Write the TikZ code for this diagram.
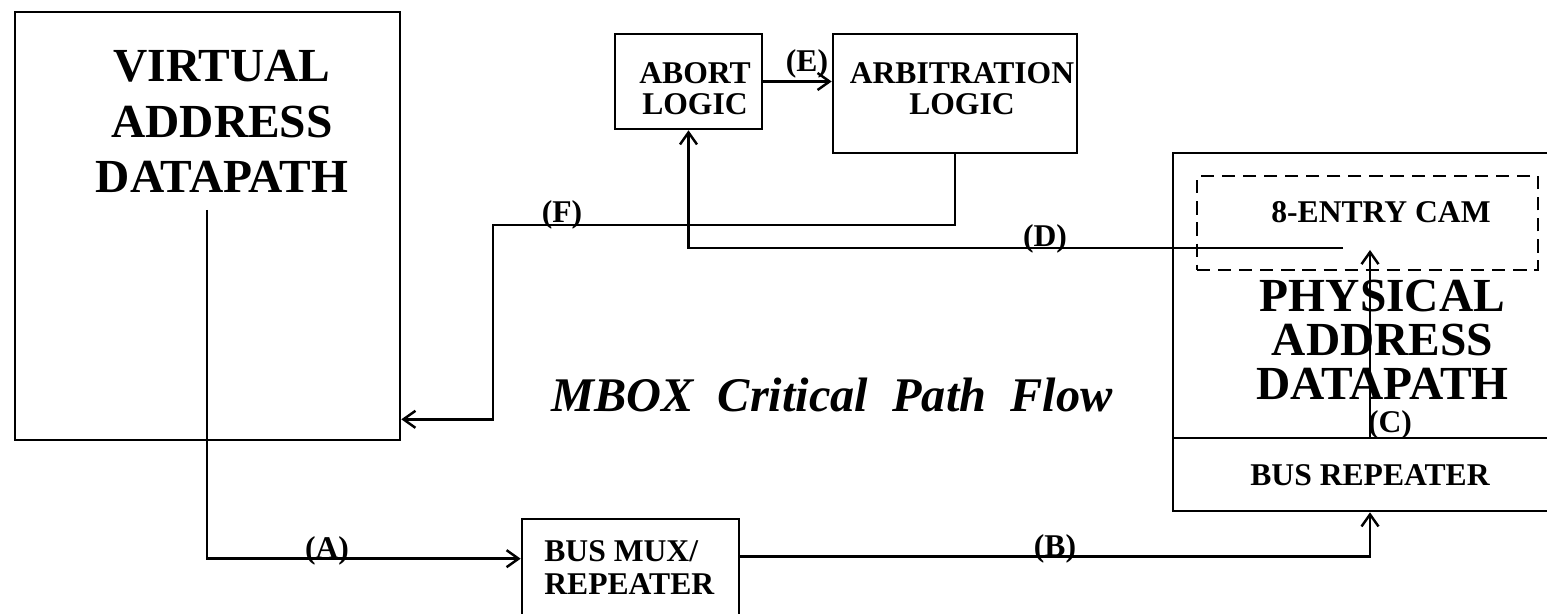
\documentclass[tikz,border=0pt]{standalone}
\usepackage{fontspec}
\setmainfont{Liberation Serif}
\usepackage{tikz}
\usetikzlibrary{arrows.meta,calc,positioning}
\tikzset{
  blk/.style={draw,line width=1.5pt,inner sep=0pt},
  camblk/.style={draw,line width=1.2pt,dash pattern=on 7.5pt off 4.5pt,inner sep=0pt},
  bigtxt/.style={font=\fontsize{27}{31.6}\selectfont\bfseries,align=center,inner sep=0pt},
  smalltxt/.style={font=\fontsize{18}{17.6}\selectfont\bfseries,align=center,inner sep=0pt},
  lbl/.style={font=\fontsize{18}{18}\selectfont\bfseries,inner sep=0pt,anchor=base},
  wire/.style={line width=1.4pt,-{Straight Barb[length=2.4mm,width=3.4mm]}},
}

\begin{document}
\begin{tikzpicture}[x=1cm,y=1cm]
    \useasboundingbox[fill=white] (0,0) rectangle (30.94,12.26);
    \clip (0,0) rectangle (30.94,12.26);

    % blocks
    \node[blk,minimum width=7.70cm,minimum height=8.56cm] (vad) at (4.15,7.74) {};
    \node[blk,minimum width=4.34cm,minimum height=2.62cm] (mux) at (12.61,0.57) {};
    \node[blk,minimum width=2.94cm,minimum height=1.90cm] (abort) at (13.77,10.63) {};
    \node[blk,minimum width=4.88cm,minimum height=2.38cm] (arb) at (19.10,10.39) {};
    \node[blk,minimum width=7.88cm,minimum height=7.16cm] (phys) at (27.40,5.62) {};
    \node[blk,minimum width=7.88cm,minimum height=1.46cm] (rep) at (27.40,2.77) {};
    \node[camblk,minimum width=6.82cm,minimum height=1.88cm] (cam) at (27.35,7.80) {};

    % block texts
    \node[bigtxt,anchor=north] (vad-txt) at (4.44,11.26) {VIRTUAL\\ADDRESS\\DATAPATH};
    \node[bigtxt,anchor=north,font=\fontsize{27}{25}\selectfont\bfseries] (phys-txt) at (27.65,6.66) {PHYSICAL\\ADDRESS\\DATAPATH};
    \node[smalltxt,anchor=north] (abort-txt) at (13.90,11.02) {ABORT\\LOGIC};
    \node[smalltxt,anchor=north] (arb-txt) at (19.24,11.02) {ARBITRATION\\LOGIC};
    \node[smalltxt,anchor=base] (cam-txt) at (27.62,7.80) {8-ENTRY CAM};
    \node[smalltxt,anchor=base] (rep-txt) at (27.40,2.56) {BUS REPEATER};
    \node[smalltxt,align=left,anchor=north west,font=\fontsize{18}{18.8}\selectfont\bfseries] (mux-txt) at (10.88,1.46) {BUS MUX/\\REPEATER};

    \node[anchor=base,inner sep=0pt,font=\fontsize{27.5}{30}\selectfont\bfseries\itshape] (title) at (16.64,4.04)
      {MBOX\ \ Critical\ \ Path\ \ Flow};

    % wire ends
    \coordinate (a-start) at (4.14,8.06);
    \coordinate (f-corner) at (9.86,7.76);
    \coordinate (d-start) at (26.86,7.30);
    \coordinate (c-tip) at (27.40,7.26);

    % wires
    \draw[wire] (a-start) |- ([yshift=-0.82cm]mux.north west);
    \draw[wire] ([yshift=-0.78cm]mux.north east) -| (rep.south);
    \draw[wire] (rep.north) -- (c-tip);
    \draw[wire] (d-start) -| (abort.south);
    \draw[wire] (abort.east) -- (abort.east -| arb.west);
    \draw[wire] (arb.south) |- (f-corner) |- ([yshift=0.44cm]vad.south east);

    % wire labels
    \node[lbl] (la) at (6.54,1.10) {(A)};
    \node[lbl] (lb) at (21.10,1.14) {(B)};
    \node[lbl] (lc) at (27.80,3.62) {(C)};
    \node[lbl] (ld) at (20.90,7.34) {(D)};
    \node[lbl] (le) at (16.14,10.82) {(E)};
    \node[lbl] (lf) at (11.24,7.80) {(F)};
  \end{tikzpicture}
\end{document}
